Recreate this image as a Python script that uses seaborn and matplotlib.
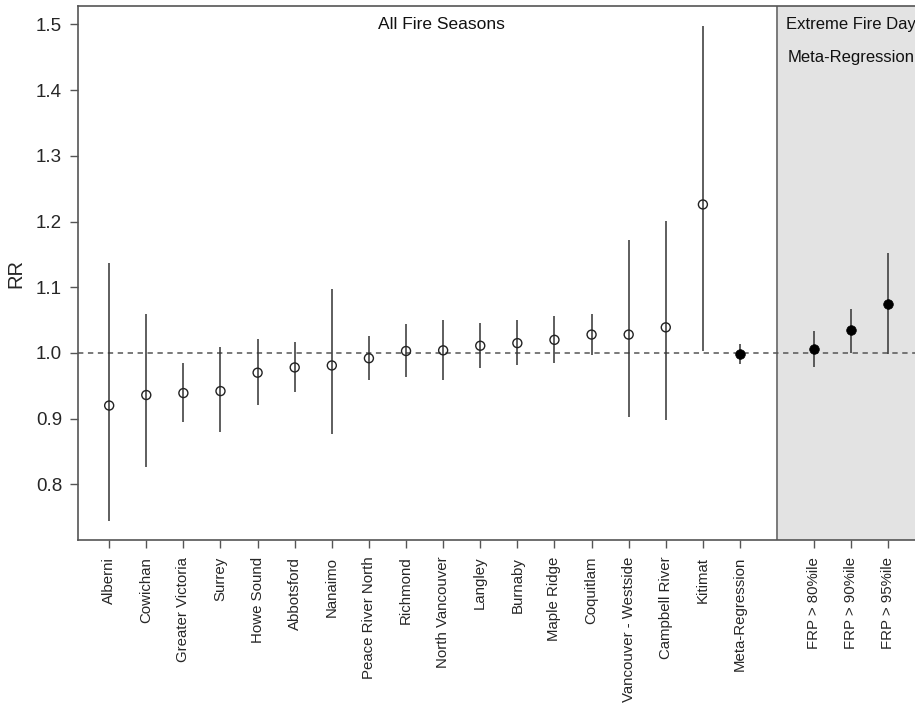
import numpy as np
import pandas as pd
import matplotlib
matplotlib.use("Agg")
import matplotlib.pyplot as plt
import seaborn as sns

# ---- data ----
locations = ["Alberni", "Cowichan", "Greater Victoria", "Surrey", "Howe Sound",
             "Abbotsford", "Nanaimo", "Peace River North", "Richmond",
             "North Vancouver", "Langley", "Burnaby", "Maple Ridge", "Coquitlam",
             "Vancouver - Westside", "Campbell River", "Kitimat"]
loc_rr = [0.920, 0.936, 0.939, 0.942, 0.970, 0.978, 0.981, 0.992, 1.003,
          1.004, 1.011, 1.015, 1.020, 1.028, 1.028, 1.039, 1.226]
loc_lo = [0.744, 0.827, 0.895, 0.879, 0.921, 0.940, 0.877, 0.959, 0.963,
          0.959, 0.977, 0.982, 0.985, 0.997, 0.903, 0.898, 1.003]
loc_hi = [1.137, 1.060, 0.985, 1.009, 1.021, 1.017, 1.097, 1.026, 1.044,
          1.050, 1.045, 1.050, 1.056, 1.059, 1.172, 1.201, 1.498]

meta_label = "Meta-Regression"
meta_rr = [0.998]
meta_lo = [0.983]
meta_hi = [1.013]

frp_labels = ["FRP > 80%ile", "FRP > 90%ile", "FRP > 95%ile"]
frp_rr = [1.006, 1.035, 1.074]
frp_lo = [0.978, 1.000, 0.998]
frp_hi = [1.034, 1.067, 1.152]

yticks = [0.8, 0.9, 1.0, 1.1, 1.2, 1.3, 1.4, 1.5]

# ---- positions ----
n = len(locations)
loc_x = np.arange(1, n + 1)
meta_x = np.array([n + 1])
frp_x = np.arange(n + 3, n + 3 + len(frp_labels))
panel_start = n + 2

df_open = pd.DataFrame({"x": loc_x, "rr": loc_rr})
df_fill = pd.DataFrame({"x": np.concatenate([meta_x, frp_x]),
                        "rr": meta_rr + frp_rr})

sns.set_style("white")
plt.rcParams["font.family"] = ["Liberation Sans", "DejaVu Sans"]

fig = plt.figure(figsize=(9.15, 7.1), dpi=100)
ax = fig.add_axes([78 / 915, 1 - 540 / 710, (919.6 - 78) / 915, (540 - 6) / 710])

x0, x1 = 0.16, frp_x[-1] + 0.84
ax.set_xlim(x0, x1)
ax.set_ylim(0.7154, 1.528)

# grey panel
ax.axvspan(panel_start, x1 + 1, color="#e3e3e3", zorder=0, lw=0)
ax.axvline(panel_start, color="#7a7a7a", lw=1.4, zorder=1)

# reference line
ax.axhline(1.0, color="#555555", lw=1.1, ls=(0, (3.5, 3)), zorder=2)

# error bars
ax.vlines(loc_x, loc_lo, loc_hi, color="#333333", lw=1.1, zorder=3)
ax.vlines(np.concatenate([meta_x, frp_x]), meta_lo + frp_lo, meta_hi + frp_hi,
          color="#333333", lw=1.1, zorder=3)

sns.scatterplot(data=df_open, x="x", y="rr", ax=ax, marker="o", s=42,
                facecolor="none", edgecolor="#222222", linewidth=1.0, zorder=4)
sns.scatterplot(data=df_fill, x="x", y="rr", ax=ax, marker="o", s=48,
                color="black", edgecolor="black", linewidth=0.5, zorder=4)

ax.set_xlabel("")
ax.set_ylabel("RR", fontsize=14.5)
ax.yaxis.set_label_coords(-0.062, 0.5)

ax.set_xticks(np.concatenate([loc_x, meta_x, frp_x]))
ax.set_xticklabels(locations + [meta_label] + frp_labels, rotation=90,
                   fontsize=10.8, va="top", ha="center")
ax.set_yticks(yticks)
ax.set_yticklabels([f"{v:.1f}" for v in yticks], fontsize=13.5)

ax.tick_params(axis="x", length=6, width=1, color="#555555", pad=6, direction="out")
ax.tick_params(axis="y", length=6, width=1, color="#555555", pad=5.5, direction="out")
ax.xaxis.set_ticks_position("bottom")
ax.yaxis.set_ticks_position("left")

for s in ["left", "bottom", "top"]:
    ax.spines[s].set_color("#555555")
    ax.spines[s].set_linewidth(1.2)
ax.spines["right"].set_visible(False)

ax.text((loc_x[0] + panel_start) / 2 - 0.05, 1.5, "All Fire Seasons",
        ha="center", va="center", fontsize=12.5, color="#111111")
ax.text(frp_x[1] + 0.1, 1.5, "Extreme Fire Days", ha="center", va="center",
        fontsize=12, color="#111111", clip_on=False)
ax.text(frp_x[1], 1.45, "Meta-Regression", ha="center", va="center",
        fontsize=12, color="#111111", clip_on=False)

fig.savefig("out.png", dpi=100)
